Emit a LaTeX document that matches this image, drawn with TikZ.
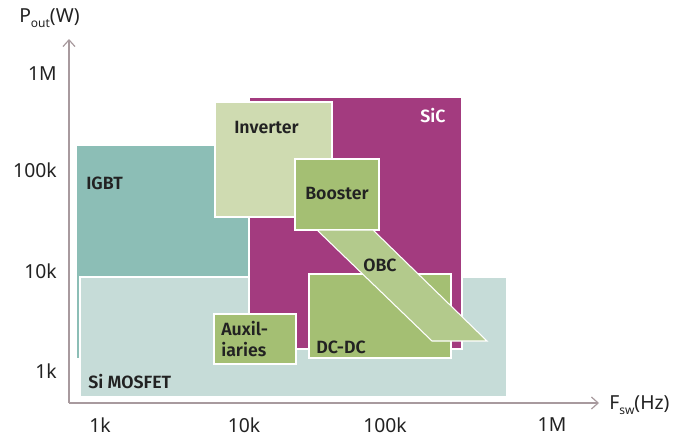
\documentclass[tikz,border=0pt]{standalone}
\usepackage{fontspec}
\setmainfont{Noto Sans}
\newfontfamily\lblfont{Fira Sans}[BoldFont={Fira Sans SemiBold}]
\usetikzlibrary{arrows.meta}
\definecolor{igbt}{HTML}{8CBEB6}
\definecolor{simos}{HTML}{C6DCD8}
\definecolor{sic}{HTML}{A33B7F}
\definecolor{inv}{HTML}{CFDBB1}
\definecolor{boost}{HTML}{A4BF73}
\definecolor{obc}{HTML}{B3CA8C}
\definecolor{axisc}{HTML}{A89A9E}
\definecolor{txt}{HTML}{222222}
\tikzset{
  region/.style={draw=white, line width=0.8pt},
  lbl/.style={font=\lblfont\fontsize{13.3}{15}\selectfont\bfseries, text=txt, inner sep=0pt, anchor=west},
  tick/.style={font=\fontsize{14.5}{16}\selectfont, text=txt, inner sep=0pt},
  axis/.style={draw=axisc, line width=0.9pt, -{Straight Barb[length=5pt,width=9pt]}}
}
\begin{document}
\begin{tikzpicture}[x=0.75pt,y=-0.75pt]
\useasboundingbox (0,0) rectangle (691,439);
% regions
\draw[region, fill=igbt] (76,145) rectangle (249,359);
\draw[region, fill=simos] (80,277) rectangle (507,397);
\draw[region, fill=sic] (249,97) rectangle (462,349);
\draw[region, fill=inv] (215,102) rectangle (332,217);
\draw[region, fill=boost] (295,159) rectangle (379,230);
\draw[region, fill=boost] (309,274) rectangle (451,358);
\draw[region, fill=obc] (317,230) -- (373,230) -- (487,341) -- (432,341) -- cycle;
\draw[region, fill=boost] (214,314) rectangle (296,364);
% axes
\coordinate (O) at (69,403);
\coordinate (ytop) at (69,39);
\coordinate (xend) at (599,403);
\draw[axis] (O) -- (ytop);
\draw[axis] (O) -- (xend);
% labels
\node[lbl] (l-inv) at (234,128) {Inverter};
\node[lbl, text=white] (l-sic) at (420,116) {SiC};
\node[lbl] (l-igbt) at (86,183) {IGBT};
\node[lbl] (l-boost) at (305,194) {Booster};
\node[lbl] (l-obc) at (363,265) {OBC};
\node[lbl, align=left, anchor=north west, font=\lblfont\fontsize{13.3}{15.8}\selectfont\bfseries] (l-aux) at (221,321) {Auxil-\\iaries};
\node[lbl] (l-dcdc) at (316,347) {DC-DC};
\node[lbl] (l-simos) at (88,382) {Si MOSFET};
% y ticks
\node[tick, anchor=east] (y1M) at (57,74) {1M};
\node[tick, anchor=east] (y100k) at (57,170) {100k};
\node[tick, anchor=east] (y10k) at (57,271) {10k};
\node[tick, anchor=east] (y1k) at (57,371) {1k};
% x ticks
\node[tick] (x1k) at (100,425) {1k};
\node[tick] (x10k) at (244,425) {10k};
\node[tick] (x100k) at (385,425) {100k};
\node[tick] (x1M) at (552,425) {1M};
% axis titles
\node[tick, anchor=west] (ptitle) at (19,18) {P\raisebox{-0.45ex}{\fontsize{9}{10}\selectfont out}(W)};
\node[tick, anchor=west] (ftitle) at (609,405) {F\raisebox{-0.45ex}{\fontsize{9}{10}\selectfont sw}(Hz)};
\end{tikzpicture}
\end{document}
